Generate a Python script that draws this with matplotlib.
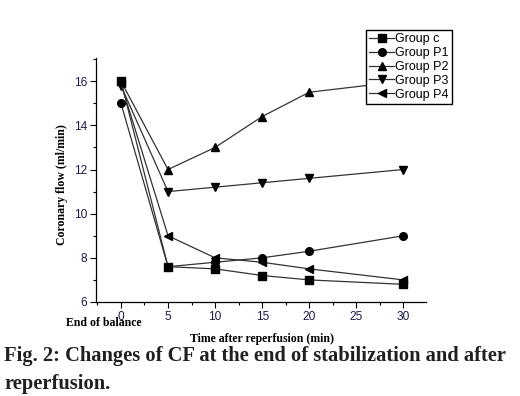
import numpy as np
import matplotlib
matplotlib.use("Agg")
import matplotlib.pyplot as plt
from matplotlib.ticker import MultipleLocator

# ---- data ----
time_pts = [0, 5, 10, 15, 20, 30]
group_c = [16.0, 7.6, 7.5, 7.2, 7.0, 6.8]
group_p1 = [15.0, 7.6, 7.8, 8.0, 8.3, 9.0]
group_p2 = [16.0, 12.0, 13.0, 14.4, 15.5, 16.0]
group_p3 = [15.8, 11.0, 11.2, 11.4, 11.6, 12.0]
group_p4 = [15.9, 9.0, 8.0, 7.8, 7.5, 7.0]

names = ['Group c', 'Group P1', 'Group P2', 'Group P3', 'Group P4']
markers = ['s', 'o', '^', 'v', '<']
series = [group_c, group_p1, group_p2, group_p3, group_p4]

serif = 'Liberation Serif'
sans = 'Liberation Sans'
tick_col = '#1c1c4a'

fig = plt.figure(figsize=(5.2, 3.96), dpi=100)
ax = fig.add_axes([96/520, 1 - 302/396, (426-96)/520, (302-58)/396])

for y, nm, mk in zip(series, names, markers):
    ax.plot(time_pts, y, color='#333333', lw=0.9, marker=mk, ms=5.5,
            mfc='black', mec='black', label=nm)

ax.set_xlim(-2.65, 32.4)
ax.set_ylim(6, 17.05)
ax.xaxis.set_major_locator(MultipleLocator(5))
ax.xaxis.set_minor_locator(MultipleLocator(2.5))
ax.yaxis.set_major_locator(MultipleLocator(2))
ax.yaxis.set_minor_locator(MultipleLocator(1))
ax.spines['top'].set_visible(False)
ax.spines['right'].set_visible(False)
for s in ['left', 'bottom']:
    ax.spines[s].set_linewidth(0.9)
ax.tick_params(which='major', direction='out', length=4.5, width=0.8,
               labelsize=8.6, labelcolor=tick_col, pad=2)
ax.tick_params(which='minor', direction='out', length=2.5, width=0.8)
for lb in ax.get_xticklabels() + ax.get_yticklabels():
    lb.set_fontfamily(sans)

ax.set_ylabel('Coronary flow (ml/min)', fontfamily=serif, fontweight='bold',
              fontsize=8.5)
ax.yaxis.set_label_coords((68-96)/330, (302-185)/244)
ax.set_xlabel('Time after reperfusion (min)', fontfamily=serif, fontweight='bold',
              fontsize=8.5)
ax.xaxis.set_label_coords((262-96)/330, -(333-302)/244)
fig.text(104/520, 1 - 323/396, 'End of balance', fontfamily=serif,
         fontweight='bold', fontsize=8.5, ha='center', va='center')

leg = ax.legend(loc='upper left', bbox_to_anchor=((366-96)/330, (302-30)/244),
                prop={'family': sans, 'size': 9}, frameon=True, fancybox=False,
                edgecolor='black', framealpha=1, handlelength=2.0,
                handletextpad=0.1, borderpad=0.25, labelspacing=0.15,
                borderaxespad=0)
leg.get_frame().set_linewidth(1.0)

fig.text(4/520, 1 - 356/396, 'Fig. 2: Changes of CF at the end of stabilization and after',
         fontfamily=serif, fontweight='bold', fontsize=14.8, color='#231f20',
         ha='left', va='center')
fig.text(4/520, 1 - 384/396, 'reperfusion.',
         fontfamily=serif, fontweight='bold', fontsize=14.8, color='#231f20',
         ha='left', va='center')

fig.savefig('out.png', dpi=100)
